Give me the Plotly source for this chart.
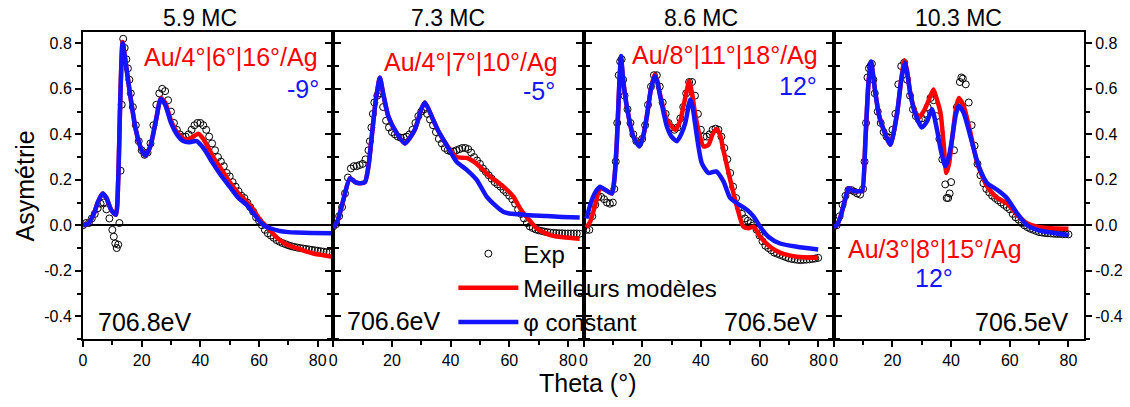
import plotly.graph_objects as go

# ---------------- data ----------------
titles = ["5.9 MC", "7.3 MC", "8.6 MC", "10.3 MC"]
energies = ["706.8eV", "706.6eV", "706.5eV", "706.5eV"]
models = ["Au/4°|6°|16°/Ag", "Au/4°|7°|10°/Ag", "Au/8°|11°|18°/Ag", "Au/3°|8°|15°/Ag"]
phis = ["-9°", "-5°", "12°", "12°"]

# Panel 1 (5.9 MC)
p1_exp_x = [0, 1, 2, 3, 4, 5, 6, 7, 8, 9, 10, 10.5, 11, 11.5, 12, 12.4, 12.8, 13.2, 13.7, 14.2, 14.8,
            15.3, 15.8, 16.3, 17, 18, 19, 20, 21, 22, 23, 24, 25, 26, 27, 28, 29, 30, 31, 32, 33, 34,
            35, 36, 37, 38, 39, 40, 41, 42, 43, 44, 45, 46, 47, 48, 49, 50, 51, 52, 53, 54, 55, 56,
            57, 58, 59, 60, 61, 62, 63, 64, 65, 66, 67, 68, 69, 70, 71, 72, 73, 74, 75, 76, 77, 78,
            79, 80, 81, 82, 83, 84]
p1_exp_y = [0.0, 0.01, 0.01, 0.03, 0.05, 0.075, 0.095, 0.10, 0.07, 0.03, -0.02, -0.05, -0.08, -0.10,
            -0.085, 0.01, 0.24, 0.53, 0.82, 0.78, 0.73, 0.69, 0.64, 0.58, 0.52, 0.44, 0.37, 0.33, 0.31,
            0.32, 0.36, 0.44, 0.53, 0.58, 0.60, 0.59, 0.55, 0.50, 0.45, 0.42, 0.40, 0.39, 0.39, 0.40,
            0.42, 0.44, 0.45, 0.45, 0.44, 0.42, 0.39, 0.36, 0.33, 0.30, 0.28, 0.26, 0.23, 0.215, 0.19,
            0.17, 0.15, 0.13, 0.12, 0.10, 0.08, 0.06, 0.035, 0.02, 0.0, -0.02, -0.035, -0.045, -0.055,
            -0.065, -0.072, -0.078, -0.083, -0.088, -0.092, -0.095, -0.098, -0.10, -0.102, -0.104,
            -0.106, -0.108, -0.11, -0.112, -0.114, -0.116, -0.118, -0.12]
p1_red_x = [0, 2, 4, 5, 6.7, 8, 9.5, 11.2, 12, 12.7, 13.5, 14.5, 16, 18, 20, 21.3, 23, 25, 26.5, 28,
            30, 32, 34.8, 37, 39.3, 41, 44.4, 47, 50, 53, 55.8, 58, 60.3, 62.6, 65, 67, 70, 72.8, 75,
            78.5, 82, 85]
p1_red_y = [0, 0.01, 0.06, 0.10, 0.14, 0.12, 0.07, 0.046, 0.2, 0.55, 0.806, 0.72, 0.58, 0.42, 0.33,
            0.306, 0.35, 0.47, 0.56, 0.54, 0.46, 0.41, 0.376, 0.385, 0.403, 0.38, 0.30, 0.25, 0.19,
            0.14, 0.104, 0.07, 0.024, -0.006, -0.04, -0.065, -0.088, -0.10, -0.11, -0.124, -0.132,
            -0.138]
p1_blue_x = [0, 2, 4, 5, 6.7, 8, 9.5, 11.2, 12, 12.7, 13.5, 14.5, 16, 18, 20, 21.3, 23, 25, 26.5, 28,
             30, 32, 34.2, 36, 38.75, 41, 44.4, 47, 50, 53, 55.8, 58, 60.3, 62, 63.75, 67, 70, 72.8,
             78, 85]
p1_blue_y = [0, 0.01, 0.06, 0.10, 0.14, 0.12, 0.07, 0.046, 0.2, 0.55, 0.80, 0.72, 0.58, 0.42, 0.33,
             0.306, 0.35, 0.47, 0.556, 0.53, 0.45, 0.40, 0.37, 0.365, 0.37, 0.34, 0.27, 0.22, 0.17,
             0.12, 0.09, 0.055, 0.016, -0.003, -0.013, -0.025, -0.03, -0.032, -0.034, -0.035]

# Panel 2 (7.3 MC)
p2_exp_x = [0, 1, 2, 3, 4, 5, 6, 7, 8, 9, 10, 11, 12, 12.5, 13, 13.5, 14, 15, 16, 17, 18, 19, 20, 21,
            22, 23, 24, 25, 26, 27, 28, 29, 30, 31, 32, 33, 34, 35, 36, 37, 38, 39, 40, 41, 42, 43,
            44, 45, 46, 47, 48, 49, 50, 51, 52, 53, 54, 55, 56, 57, 58, 59, 60, 61, 62, 63, 64, 65,
            66, 67, 68, 69, 70, 71, 72, 73, 74, 75, 76, 77, 78, 79, 80, 81, 82, 83, 84]
p2_exp_y = [-0.005, 0.005, 0.04, 0.08, 0.14, 0.21, 0.25, 0.26, 0.26, 0.265, 0.27, 0.29, 0.33, 0.37,
            0.43, 0.49, 0.54, 0.57, 0.58, 0.52, 0.46, 0.43, 0.41, 0.40, 0.39, 0.385, 0.385, 0.39,
            0.40, 0.42, 0.45, 0.48, 0.50, 0.51, 0.49, 0.465, 0.44, 0.41, 0.38, 0.36, 0.34, 0.33,
            0.325, 0.325, 0.33, 0.335, 0.34, 0.34, 0.335, 0.32, 0.30, 0.285, 0.27, 0.25, 0.235, 0.22,
            0.205, 0.19, 0.18, 0.17, 0.156, 0.145, 0.13, 0.115, 0.095, 0.07, 0.05, 0.03, 0.01,
            -0.005, -0.012, -0.018, -0.022, -0.025, -0.028, -0.03, -0.032, -0.033, -0.034, -0.035,
            -0.035, -0.036, -0.036, -0.036, -0.036, -0.036, -0.037]
p2_red_x = [0, 1.5, 3.4, 5.7, 7.5, 9.1, 10.8, 12, 13, 14.5, 15.9, 17, 18.75, 21.6, 24.4, 27.8, 30,
            31.25, 34, 36, 38.6, 42, 45.5, 48.9, 51, 53.4, 56, 58, 61.4, 63, 64.8, 67, 69.3, 71.5,
            73.9, 78.4, 84]
p2_red_y = [-0.01, 0.02, 0.11, 0.207, 0.19, 0.185, 0.19, 0.26, 0.376, 0.55, 0.649, 0.58, 0.48, 0.406,
            0.36, 0.42, 0.51, 0.54, 0.465, 0.41, 0.354, 0.30, 0.296, 0.27, 0.245, 0.215, 0.19, 0.17,
            0.126, 0.09, 0.053, 0.02, -0.013, -0.03, -0.043, -0.053, -0.059]
p2_blue_x = [0, 1.5, 3.4, 5.7, 7.5, 9.1, 10.8, 12, 13, 14.5, 15.9, 17, 18.75, 21.6, 24.4, 27.8, 30,
             31.25, 34, 36, 38.6, 42, 45.5, 48.9, 52.3, 55.7, 57.9, 60, 62.5, 67, 72.7, 78, 84]
p2_blue_y = [-0.01, 0.02, 0.11, 0.207, 0.19, 0.185, 0.19, 0.26, 0.376, 0.55, 0.649, 0.58, 0.48, 0.406,
             0.36, 0.42, 0.51, 0.54, 0.465, 0.41, 0.354, 0.28, 0.244, 0.2, 0.126, 0.082, 0.06, 0.052,
             0.049, 0.044, 0.041, 0.037, 0.034]

# Panel 3 (8.6 MC)
p3_exp_x = [0, 1, 2, 3, 4, 5, 6, 7, 8, 9, 10, 10.5, 11, 11.5, 12, 12.5, 13, 13.5, 14, 15, 16, 17, 18,
            19, 20, 21, 22, 23, 24, 25, 26, 27, 28, 29, 30, 31, 32, 33, 34, 35, 36, 37, 38, 39, 40,
            41, 42, 43, 44, 45, 46, 47, 48, 49, 50, 51, 52, 53, 54, 55, 56, 57, 58, 59, 60, 61, 62,
            63, 64, 65, 66, 67, 68, 69, 70, 71, 72, 73, 74, 75, 76, 77, 78, 79, 80]
p3_exp_y = [-0.01, -0.02, -0.02, 0.04, 0.09, 0.125, 0.125, 0.115, 0.10, 0.095, 0.10, 0.16, 0.28, 0.45,
            0.66, 0.72, 0.73, 0.64, 0.57, 0.51, 0.45, 0.40, 0.37, 0.36, 0.38, 0.44, 0.53, 0.61, 0.66,
            0.66, 0.61, 0.54, 0.49, 0.45, 0.43, 0.42, 0.43, 0.47, 0.52, 0.58, 0.63, 0.63, 0.57, 0.49,
            0.42, 0.39, 0.39, 0.40, 0.42, 0.425, 0.42, 0.39, 0.34, 0.29, 0.23, 0.17, 0.12, 0.08,
            0.05, 0.03, 0.02, 0.01, 0.0, -0.02, -0.045, -0.07, -0.09, -0.10, -0.11, -0.12, -0.125,
            -0.13, -0.135, -0.14, -0.145, -0.148, -0.15, -0.152, -0.153, -0.152, -0.151, -0.15,
            -0.148, -0.146, -0.143]
p3_red_x = [1, 2.3, 4, 5.7, 7.4, 9.7, 10.5, 11.4, 12.2, 12.8, 13.5, 14.8, 17, 19.1, 20.5, 21.6, 23,
            24.2, 25, 26.1, 28.4, 31.25, 33, 34, 35, 36, 37, 38, 39.5, 40.9, 42.6, 44, 45.2, 46.5,
            47.7, 50, 52.3, 54.5, 56.25, 58, 60.2, 63.6, 67, 72.7, 80]
p3_red_y = [-0.01, 0.016, 0.09, 0.163, 0.156, 0.14, 0.2, 0.376, 0.62, 0.73, 0.64, 0.52, 0.39, 0.354,
            0.4, 0.48, 0.6, 0.663, 0.64, 0.575, 0.465, 0.42, 0.46, 0.52, 0.58, 0.634, 0.58, 0.494,
            0.4, 0.347, 0.354, 0.40, 0.424, 0.40, 0.33, 0.2, 0.082, -0.006, -0.013, -0.006, -0.05,
            -0.094, -0.12, -0.138, -0.143]
p3_blue_x = [1, 2.8, 4.5, 5.7, 7.4, 9.7, 10.5, 11.4, 12.2, 12.8, 13.5, 14.8, 17, 19.1, 20.5, 21.6, 23,
             24.3, 25.2, 26.1, 28.4, 30, 31.8, 33.3, 34.7, 36.4, 37.2, 38, 40.3, 42.6, 45.2, 47.7,
             50, 52.3, 55.7, 58, 60.2, 63, 67, 72.7, 80]
p3_blue_y = [0.03, 0.11, 0.155, 0.17, 0.156, 0.14, 0.2, 0.376, 0.62, 0.744, 0.64, 0.52, 0.39, 0.347,
             0.4, 0.48, 0.6, 0.656, 0.63, 0.57, 0.435, 0.39, 0.37, 0.40, 0.45, 0.553, 0.52, 0.45,
             0.274, 0.23, 0.237, 0.193, 0.12, 0.097, 0.068, 0.038, -0.006, -0.05, -0.08, -0.094,
             -0.106]

# Panel 4 (10.3 MC)
p4_exp_x = [0, 1, 2, 3, 4, 5, 6, 7, 8, 9, 10, 10.5, 11, 11.5, 12, 12.5, 13, 13.5, 14, 15, 16, 17, 18,
            19, 20, 21, 22, 23, 24, 25, 26, 27, 28, 29, 30, 31, 32, 33, 34, 35, 36, 37, 38, 38.5, 39,
            39.5, 40, 41, 42, 43, 43.5, 44, 45, 46, 47, 48, 49, 50, 51, 52, 53, 54, 55, 56, 57, 58,
            59, 60, 61, 62, 63, 64, 65, 66, 67, 68, 69, 70, 71, 72, 73, 74, 75, 76, 77, 78, 79, 80]
p4_exp_y = [-0.005, 0.0, 0.04, 0.09, 0.13, 0.155, 0.155, 0.148, 0.14, 0.135, 0.16, 0.28, 0.45, 0.65,
            0.69, 0.70, 0.71, 0.64, 0.58, 0.50, 0.45, 0.41, 0.39, 0.385, 0.42, 0.49, 0.62, 0.70,
            0.715, 0.64, 0.57, 0.51, 0.48, 0.465, 0.47, 0.49, 0.52, 0.56, 0.55, 0.48, 0.38, 0.29,
            0.18, 0.12, 0.12, 0.14, 0.19, 0.33, 0.52, 0.63, 0.65, 0.645, 0.62, 0.54, 0.44, 0.35,
            0.27, 0.22, 0.185, 0.16, 0.145, 0.13, 0.12, 0.11, 0.10, 0.09, 0.08, 0.07, 0.05, 0.035,
            0.025, 0.01, 0.0, -0.008, -0.015, -0.02, -0.025, -0.03, -0.032, -0.034, -0.035, -0.036,
            -0.037, -0.038, -0.038, -0.039, -0.039, -0.04]
p4_red_x = [0, 1, 2.3, 4, 5.1, 6.8, 9, 9.7, 10.8, 11.8, 12.7, 14.2, 15.5, 17, 19.3, 21.6, 23, 24.1, 25,
            26.1, 27.5, 29, 31.25, 33, 34, 35, 36.4, 37.5, 38.4, 39.3, 40.3, 41.5, 42.6, 44.3, 46.6,
            48.9, 52.3, 55.7, 59, 62.5, 65.9, 69.3, 73.9, 80]
p4_red_y = [-0.006, 0.0, 0.038, 0.12, 0.163, 0.15, 0.15, 0.15, 0.376, 0.62, 0.715, 0.58, 0.48, 0.42,
            0.354, 0.494, 0.64, 0.726, 0.68, 0.58, 0.51, 0.472, 0.516, 0.57, 0.597, 0.56, 0.494,
            0.35, 0.23, 0.27, 0.376, 0.50, 0.56, 0.524, 0.406, 0.274, 0.17, 0.12, 0.097, 0.046,
            0.009, -0.006, -0.013, -0.015]
p4_blue_x = [0, 1, 2.3, 4, 5.1, 6.8, 9, 9.7, 10.8, 11.8, 12.7, 14.2, 15.5, 17, 19.3, 21.6, 23, 24.2,
             25, 26.1, 27.5, 30, 31.8, 33.5, 35.2, 36.5, 38, 39, 40.3, 41.5, 42.6, 44.3, 46.6, 49.4,
             52.3, 55.7, 59, 62.5, 65.9, 69.3, 73.9, 80]
p4_blue_y = [-0.006, 0.0, 0.038, 0.12, 0.163, 0.15, 0.15, 0.15, 0.376, 0.62, 0.72, 0.58, 0.48, 0.42,
             0.354, 0.494, 0.64, 0.715, 0.67, 0.58, 0.50, 0.43, 0.457, 0.51, 0.42, 0.33, 0.26, 0.29,
             0.376, 0.48, 0.526, 0.494, 0.39, 0.26, 0.185, 0.156, 0.12, 0.053, 0.0, -0.02, -0.032,
             -0.043]

y_ticks = [-0.4, -0.2, 0.0, 0.2, 0.4, 0.6, 0.8]
y_ticktext = ["-0.4", "-0.2", "0.0", "0.2", "0.4", "0.6", "0.8"]
x_ticks = [0, 20, 40, 60, 80]
legend_names = ["Exp", "Meilleurs modèles", "φ constant"]

# ---------------- figure ----------------
FONT = "Liberation Sans, Arial, sans-serif"
RED = "#ff0000"
BLUE = "#1414ff"

panels = [
    (p1_exp_x, p1_exp_y, p1_red_x, p1_red_y, p1_blue_x, p1_blue_y),
    (p2_exp_x, p2_exp_y, p2_red_x, p2_red_y, p2_blue_x, p2_blue_y),
    (p3_exp_x, p3_exp_y, p3_red_x, p3_red_y, p3_blue_x, p3_blue_y),
    (p4_exp_x, p4_exp_y, p4_red_x, p4_red_y, p4_blue_x, p4_blue_y),
]

fig = go.Figure()
for i, (ex, ey, rx, ry, bx, by) in enumerate(panels):
    xa = "x" if i == 0 else f"x{i+1}"
    ya = "y" if i == 0 else f"y{i+1}"
    fig.add_trace(go.Scatter(x=ex, y=ey, mode="markers", xaxis=xa, yaxis=ya,
                             name=legend_names[0], showlegend=(i == 0),
                             marker=dict(symbol="circle-open", size=7, color="black",
                                         line=dict(width=1, color="black"))))
    fig.add_trace(go.Scatter(x=rx, y=ry, mode="lines", xaxis=xa, yaxis=ya,
                             name=legend_names[1], showlegend=(i == 0),
                             line=dict(color=RED, width=4.5, shape="spline", smoothing=0.6)))
    fig.add_trace(go.Scatter(x=bx, y=by, mode="lines", xaxis=xa, yaxis=ya,
                             name=legend_names[2], showlegend=(i == 0),
                             line=dict(color=BLUE, width=4.5, shape="spline", smoothing=0.6)))

XR = [0, 85.3]
YR = [-0.5, 0.85]
layout = dict(
    width=1130, height=407,
    margin=dict(l=83, r=46, t=32, b=68),
    paper_bgcolor="white", plot_bgcolor="white",
    font=dict(family=FONT, color="black", size=16),
    legend=dict(x=0.37, y=0.35, xanchor="left", yanchor="top",
                bgcolor="rgba(0,0,0,0)", font=dict(size=24, family=FONT),
                itemwidth=60, tracegroupgap=0),
)
for i in range(4):
    k = "" if i == 0 else str(i + 1)
    layout[f"xaxis{k}"] = dict(
        domain=[i / 4, (i + 1) / 4], anchor=f"y{k}", range=XR, automargin=False,
        tickvals=x_ticks, ticks="outside", ticklen=6, tickwidth=1.5, tickcolor="black",
        showline=True, linecolor="black", linewidth=2, mirror=True,
        showgrid=False, zeroline=False,
        tickfont=dict(size=16, family=FONT),
        minor=dict(dtick=10, tick0=0, ticks="outside", ticklen=4, tickwidth=1.5, tickcolor="black"),
    )
    layout[f"yaxis{k}"] = dict(
        domain=[0, 1], anchor=f"x{k}", range=YR, automargin=False,
        tickvals=y_ticks, ticktext=y_ticktext,
        ticks="outside", ticklen=6, tickwidth=1.5, tickcolor="black",
        showline=True, linecolor="black", linewidth=2, mirror="ticks",
        showgrid=False, zeroline=True, zerolinecolor="black", zerolinewidth=1.5,
        showticklabels=(i == 0 or i == 3), side=("right" if i == 3 else "left"),
        tickfont=dict(size=16, family=FONT),
        minor=dict(dtick=0.1, tick0=0, ticks="outside", ticklen=4, tickwidth=1.5, tickcolor="black"),
    )
    # top axis with inward ticks
    layout[f"xaxis{i+5}"] = dict(
        overlaying=("x" if i == 0 else f"x{i+1}"), side="top", anchor=f"y{k}", range=XR,
        tickvals=x_ticks, ticks="inside", ticklen=6, tickwidth=1.5, tickcolor="black",
        showticklabels=False, showgrid=False, zeroline=False, showline=False, automargin=False,
        minor=dict(dtick=10, tick0=0, ticks="inside", ticklen=4, tickwidth=1.5, tickcolor="black"),
    )
fig.update_layout(**layout)

title_x = [40, 39.2, 40, 42.4]
model_pos = [(80.7, 0.738, "right"), (77.2, 0.72, "right"), (80.6, 0.75, "right"), (34.5, -0.106, "center")]
phi_pos = [(81.2, 0.60, "right"), (76.1, 0.59, "right"), (80.4, 0.614, "right"), (34.3, -0.23, "center")]
energy_pos = [(4.4, -0.427, "left"), (4.0, -0.422, "left"), (80.4, -0.425, "right"), (80.4, -0.425, "right")]

anns = []
for i in range(4):
    k = "" if i == 0 else str(i + 1)
    xr = f"x{k}"
    yr = f"y{k}"
    anns.append(dict(x=title_x[i], y=1.046, xref=xr, yref="paper", text=titles[i],
                     showarrow=False, font=dict(size=23, family=FONT, color="black"),
                     xanchor="center", yanchor="middle"))
    mx, my, ma = model_pos[i]
    anns.append(dict(x=mx, y=my, xref=xr, yref=yr, text=models[i], showarrow=False,
                     font=dict(size=25, family=FONT, color=RED), xanchor=ma, yanchor="middle"))
    px_, py_, pa = phi_pos[i]
    anns.append(dict(x=px_, y=py_, xref=xr, yref=yr, text=phis[i], showarrow=False,
                     font=dict(size=25, family=FONT, color=BLUE), xanchor=pa, yanchor="middle"))
    ex_, ey_, ea = energy_pos[i]
    anns.append(dict(x=ex_, y=ey_, xref=xr, yref=yr, text=energies[i], showarrow=False,
                     font=dict(size=25, family=FONT, color="black"), xanchor=ea, yanchor="middle"))

anns.append(dict(x=0.5045, y=-0.143, xref="paper", yref="paper", text="Theta (°)", showarrow=False,
                 font=dict(size=25, family=FONT, color="black"), xanchor="center", yanchor="middle"))
anns.append(dict(x=-0.058, y=0.5, xref="paper", yref="paper", text="Asymétrie", showarrow=False,
                 textangle=-90, font=dict(size=25, family=FONT, color="black"),
                 xanchor="center", yanchor="middle"))
fig.update_layout(annotations=anns)

fig.write_html("out.html", config={"displayModeBar": False},
               post_script="document.body.style.margin='0';document.body.style.padding='0';")
